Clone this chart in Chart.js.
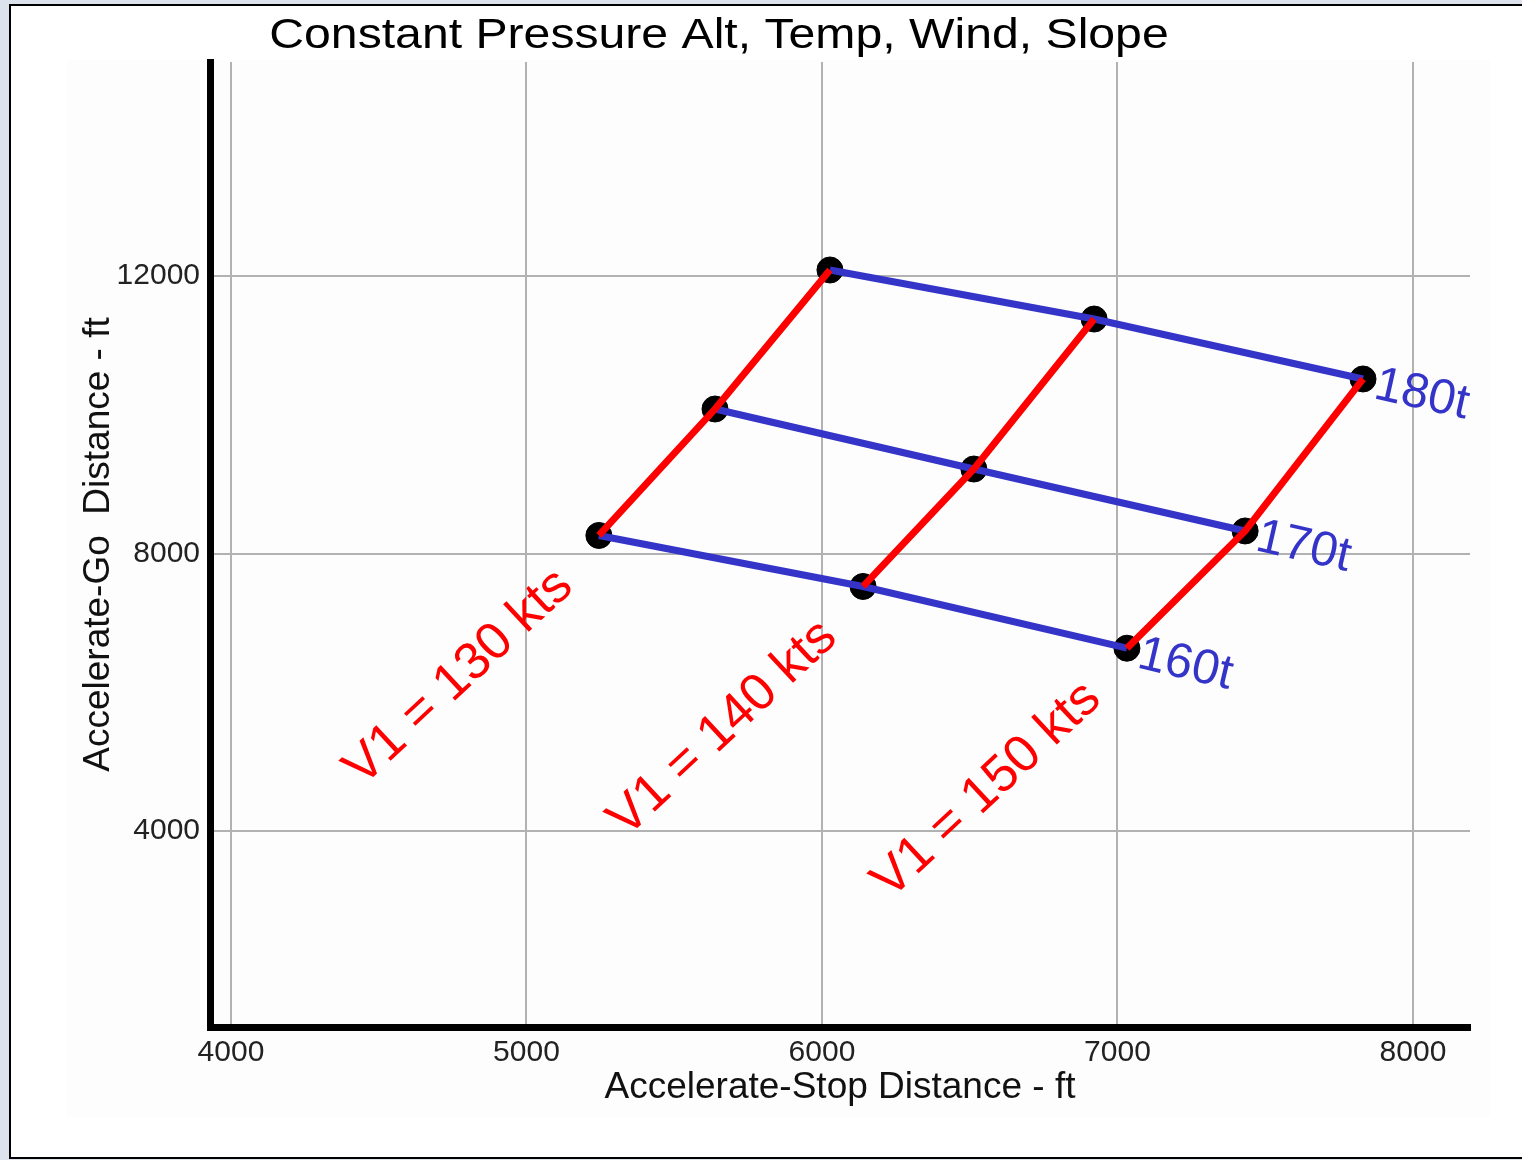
<!DOCTYPE html>
<html>
<head>
<meta charset="utf-8">
<script src="https://cdn.jsdelivr.net/npm/chart.js@4/dist/chart.umd.min.js"></script>
<style>
  html, body { margin: 0; padding: 0; overflow: hidden; background: #dde3ec; width: 1522px; height: 1160px; }
  #frame { position: absolute; left: 9px; top: 4px; width: 1600px; height: 1151px; border: 2px solid #000; background: #fff; }
  #c { position: absolute; left: 0; top: 0; }
</style>
</head>
<body>
<div id="frame"></div>
<canvas id="c" width="1522" height="1160" style="width:1522px;height:1160px"></canvas>
<script>
// ---- Data ----
const chartTitle = 'Constant Pressure Alt, Temp, Wind, Slope';
const xTitle = 'Accelerate-Stop Distance - ft';
const yTitle = 'Accelerate-Go  Distance - ft';

const xTicks = [4000, 5000, 6000, 7000, 8000];
const yTicks = [4000, 8000, 12000];

const weightLabels = ['160t', '170t', '180t'];
const v1Labels = ['V1 = 130 kts', 'V1 = 140 kts', 'V1 = 150 kts'];

// Accelerate-Stop (x) and Accelerate-Go (y) distances, per weight, for V1 = 130 / 140 / 150 kts
const asd160 = [5245, 6139, 7032];
const agd160 = [8260, 7525, 6635];
const asd170 = [5638, 6514, 7432];
const agd170 = [10083, 9218, 8325];
const asd180 = [6027, 6921, 7831];
const agd180 = [12087, 11380, 10516];

const xMin = 3929, xMax = 8193;
const yMin = 1175, yMax = 15085;

// ---- Build datasets from the arrays ----
const asdByWeight = [asd160, asd170, asd180];
const agdByWeight = [agd160, agd170, agd180];

const blue = '#3434c8';
const red = '#ff0000';

function pts(xs, ys) { return xs.map((x, i) => ({ x: x, y: ys[i] })); }

const datasets = [];
// red V1 lines (on top)
v1Labels.forEach((lbl, j) => {
  datasets.push({
    label: lbl,
    data: asdByWeight.map((xs, w) => ({ x: xs[j], y: agdByWeight[w][j] })),
    showLine: true, borderColor: red, borderWidth: 7, pointRadius: 0,
    borderCapStyle: 'butt', order: 0
  });
});
// blue weight lines
weightLabels.forEach((lbl, w) => {
  datasets.push({
    label: lbl,
    data: pts(asdByWeight[w], agdByWeight[w]),
    showLine: true, borderColor: blue, borderWidth: 7, pointRadius: 0,
    borderCapStyle: 'butt', order: 1
  });
});
// black markers (underneath the lines)
datasets.push({
  label: 'points',
  data: asdByWeight.flatMap((xs, w) => pts(xs, agdByWeight[w])),
  showLine: false, pointRadius: 13, pointBorderWidth: 1,
  pointBackgroundColor: '#000', pointBorderColor: '#000', order: 2
});

const FONT = "'Liberation Sans', Arial, Helvetica, sans-serif";

const decor = {
  id: 'decor',
  beforeDraw(chart) {
    const ctx = chart.ctx;
    ctx.save();
    ctx.fillStyle = '#fdfdfd';
    ctx.fillRect(67, 60, 1423, 1057);
    ctx.restore();
  },
  afterDraw(chart) {
    const ctx = chart.ctx;
    const xs = chart.scales.x, ys = chart.scales.y;
    ctx.save();
    // title (slightly widened like the reference lettering)
    ctx.fillStyle = '#000';
    ctx.font = '43px ' + FONT;
    ctx.textAlign = 'center';
    ctx.textBaseline = 'middle';
    ctx.save();
    ctx.translate(719, 36);
    ctx.scale(1.12, 1);
    ctx.fillText(chartTitle, 0, 0);
    ctx.restore();

    // weight labels at the end of each blue line
    ctx.font = '49px ' + FONT;
    ctx.fillStyle = blue;
    ctx.textAlign = 'left';
    weightLabels.forEach((lbl, w) => {
      const xa = asdByWeight[w], ya = agdByWeight[w];
      const n = xa.length;
      const px = xs.getPixelForValue(xa[n - 1]), py = ys.getPixelForValue(ya[n - 1]);
      const qx = xs.getPixelForValue(xa[n - 2]), qy = ys.getPixelForValue(ya[n - 2]);
      const ang = Math.atan2(py - qy, px - qx);
      ctx.save();
      ctx.translate(px, py);
      ctx.rotate(ang);
      ctx.fillText(lbl, 13, 3);
      ctx.restore();
    });

    // V1 labels below-left of each red line's start
    ctx.font = '52px ' + FONT;
    ctx.fillStyle = red;
    ctx.textAlign = 'center';
    v1Labels.forEach((lbl, j) => {
      const px = xs.getPixelForValue(asdByWeight[0][j]);
      const py = ys.getPixelForValue(agdByWeight[0][j]);
      ctx.save();
      ctx.translate(px - 140, py + 142);
      ctx.rotate(-43 * Math.PI / 180);
      ctx.fillText(lbl, 0, 0);
      ctx.restore();
    });
    ctx.restore();
  }
};

const plainTick = v => String(v);

new Chart(document.getElementById('c').getContext('2d'), {
  type: 'scatter',
  data: { datasets: datasets },
  options: {
    responsive: false,
    animation: false,
    devicePixelRatio: 1,
    layout: { padding: { left: 0, right: 52, top: 62, bottom: 0 } },
    plugins: { legend: { display: false }, tooltip: { enabled: false }, title: { display: false } },
    scales: {
      x: {
        type: 'linear', min: xMin, max: xMax,
        afterBuildTicks: s => { s.ticks = xTicks.map(v => ({ value: v })); },
        afterFit: s => { s.height = 133; },
        grid: { color: '#b2b2b2', lineWidth: 2, drawTicks: false },
        border: { color: '#000', width: 7 },
        ticks: { padding: 8, color: '#222', font: { family: FONT, size: 30 }, maxRotation: 0, callback: plainTick },
        title: { display: true, text: xTitle, color: '#111', font: { family: FONT, size: 37 }, padding: { top: 0, bottom: 50 } }
      },
      y: {
        type: 'linear', min: yMin, max: yMax,
        afterBuildTicks: s => { s.ticks = yTicks.map(v => ({ value: v })); },
        afterFit: s => { s.width = 210; },
        grid: { color: '#b2b2b2', lineWidth: 2, drawTicks: false },
        border: { color: '#000', width: 7 },
        ticks: { padding: 10, color: '#222', font: { family: FONT, size: 30 }, callback: plainTick },
        title: { display: true, text: yTitle, color: '#111', font: { family: FONT, size: 37 }, padding: { top: 77, bottom: 0 } }
      }
    }
  },
  plugins: [decor]
});
</script>
</body>
</html>
